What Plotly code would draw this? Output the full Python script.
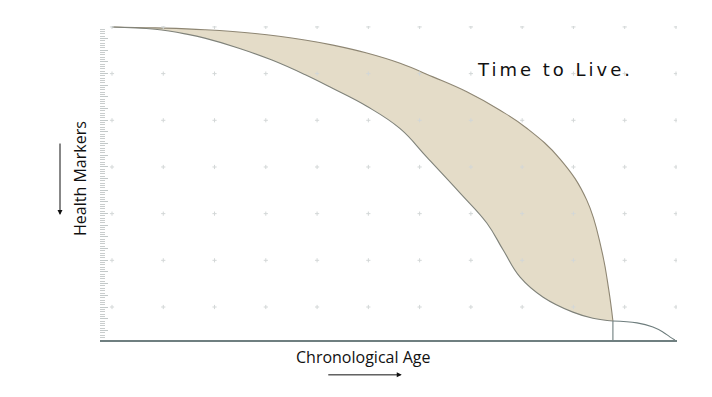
import numpy as np
import plotly.graph_objects as go

# Curve data (age units, health-marker units)
upper_age = [0, 8.4, 18.1, 27.9, 37.6, 43.1, 49.7, 56.2, 62.6, 69.2, 75.6, 80.9, 87.4, 92.6, 95.5, 96.9, 97.7]
upper_health = [60, 59.8, 59.4, 58.6, 57.2, 56.1, 54.4, 52.2, 49.3, 46.1, 42.2, 38.3, 31.7, 22.9, 12.2, 3.6, -3.0]

lower_age = [0, 8.4, 14.8, 18.1, 24.6, 31.2, 37.6, 43.1, 49.7, 56.2, 61.4, 67.9, 73.1, 76.3, 79.6, 84.1, 89.9, 93.8, 97.7]
lower_health = [60, 59.5, 58.4, 57.6, 55.5, 52.9, 49.8, 46.8, 43.0, 38.2, 32.1, 24.4, 18.0, 12.2, 6.4, 2.1, -1.1, -2.4, -3.0]

tail_age = [97.7, 102.4, 105.5, 107.5, 108.8, 109.8]
tail_health = [-3.0, -3.4, -4.3, -5.4, -6.4, -7.07]

drop_age = [97.7, 97.7]
drop_health = [-3.0, -7.07]

grid_x = list(range(0, 111, 10))
grid_y = list(range(0, 61, 10))

X_RANGE = [-2.34, 110.2]
Y_RANGE = [-7.07, 60.2]

SM = 1.2

fig = go.Figure()

# filled band
fig.add_trace(go.Scatter(
    x=upper_age + lower_age[::-1], y=upper_health + lower_health[::-1],
    fill="toself", fillcolor="#e4dcc8", mode="lines",
    line=dict(width=0, shape="spline", smoothing=SM), hoverinfo="skip", showlegend=False))
fig.add_trace(go.Scatter(x=upper_age, y=upper_health, mode="lines",
    line=dict(color="#8e8673", width=1.1, shape="spline", smoothing=SM), showlegend=False))
fig.add_trace(go.Scatter(x=lower_age, y=lower_health, mode="lines",
    line=dict(color="#7f827a", width=1.1, shape="spline", smoothing=SM), showlegend=False))
fig.add_trace(go.Scatter(x=tail_age, y=tail_health, mode="lines",
    line=dict(color="#6e7d7d", width=1.1, shape="spline", smoothing=SM), showlegend=False))
fig.add_trace(go.Scatter(x=drop_age, y=drop_health, mode="lines",
    line=dict(color="#6e7d7d", width=1.1), showlegend=False))

gx, gy = np.meshgrid(grid_x, grid_y)
fig.add_trace(go.Scatter(x=gx.ravel(), y=gy.ravel(), mode="markers",
    marker=dict(symbol="cross-thin", size=3, line=dict(color="#d3d7d7", width=1)),
    hoverinfo="skip", showlegend=False))

fig.update_xaxes(range=X_RANGE, showgrid=False, zeroline=False, showticklabels=False,
                 showline=True, linecolor="#6f7f80", linewidth=2, ticks="")
fig.update_yaxes(range=Y_RANGE, showgrid=False, zeroline=False, showticklabels=False,
                 showline=False, ticks="inside", ticklen=8, tickcolor="#c3c9c9", tickwidth=1,
                 tick0=0, dtick=2.5,
                 minor=dict(ticks="inside", ticklen=5, tickcolor="#c9cdcd", dtick=0.5, tickwidth=1))

fig.update_layout(
    width=712, height=397,
    margin=dict(l=92, r=43, t=18, b=65),
    paper_bgcolor="white", plot_bgcolor="white",
    annotations=[
        dict(text='<span style="letter-spacing:3px">Time to Live.</span>', x=0.789, y=0.86,
             xref="paper", yref="paper", xanchor="center", yanchor="middle",
             showarrow=False, font=dict(family="DejaVu Sans", size=18, color="#111111")),
        dict(text="Health Markers", x=-0.0347, y=0.516, xref="paper", yref="paper",
             xanchor="center", yanchor="middle",
             textangle=-90, showarrow=False, font=dict(family="Open Sans", size=16, color="#111111")),
        dict(text="Chronological Age", x=0.456, y=-0.054, xref="paper", yref="paper",
             xanchor="center", yanchor="middle",
             showarrow=False, font=dict(family="Open Sans", size=16, color="#111111")),
        dict(text="", x=-0.0693, y=0.398, xref="paper", yref="paper", ax=0, ay=-73,
             showarrow=True, arrowhead=2, arrowsize=1, arrowwidth=1, arrowcolor="#111111"),
        dict(text="", x=0.523, y=-0.111, xref="paper", yref="paper", ax=-75, ay=0,
             showarrow=True, arrowhead=2, arrowsize=1, arrowwidth=1, arrowcolor="#111111"),
    ],
)

fig.write_html("out.html")
